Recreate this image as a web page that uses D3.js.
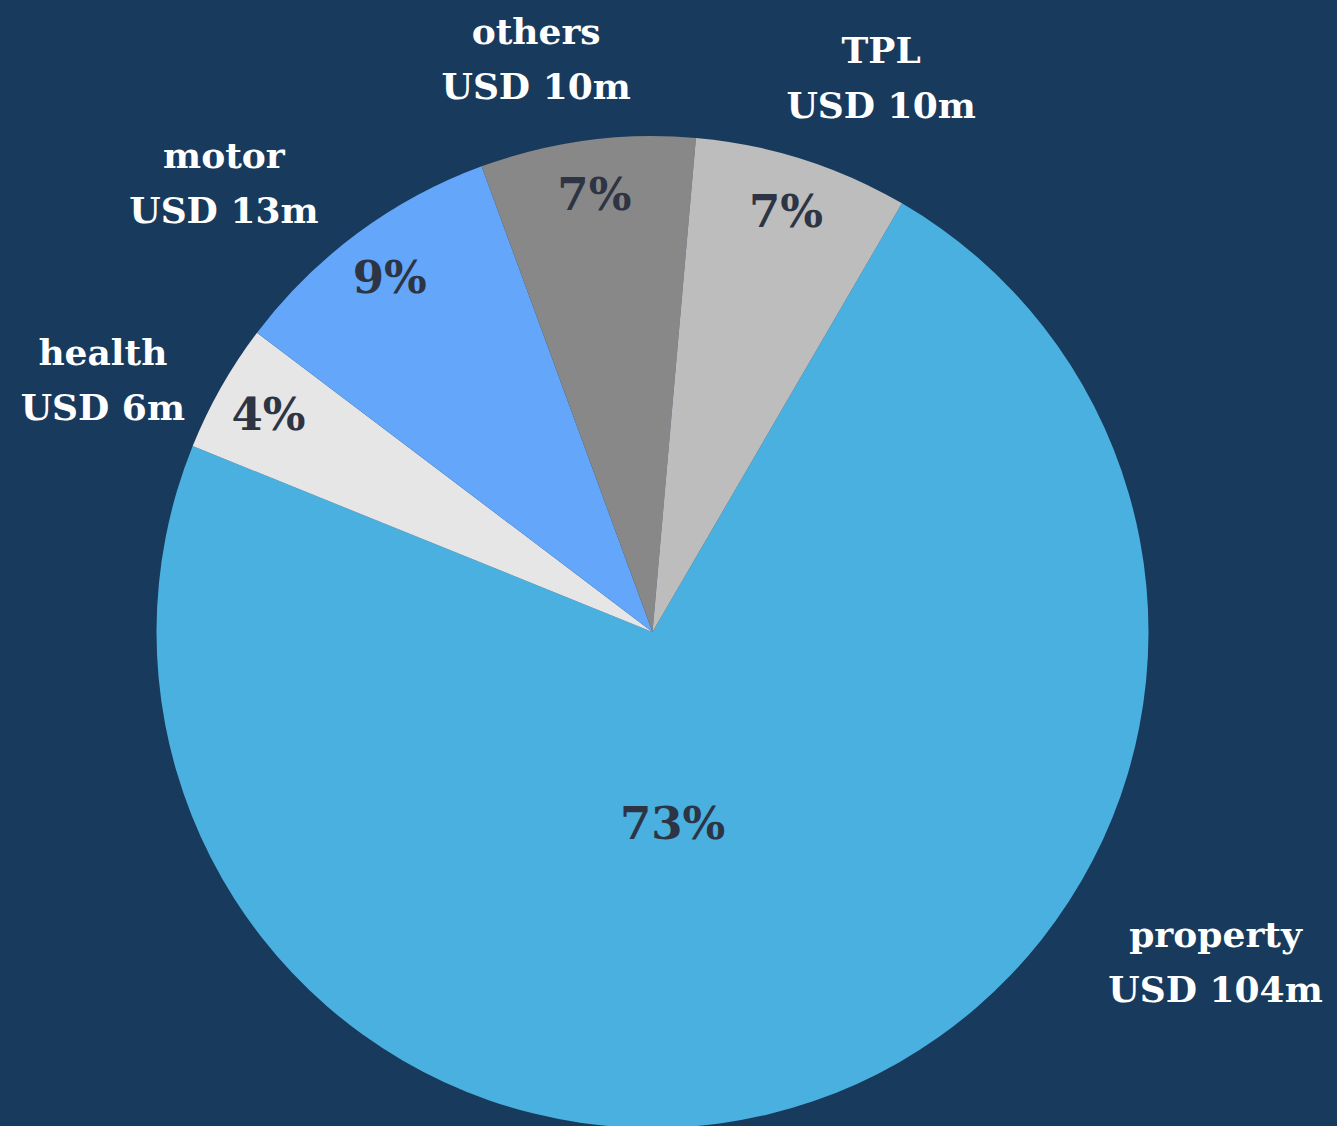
<html lang="en">
<head>
    <meta charset="UTF-8">
    <title>Premium by line</title>
    <script src="https://d3js.org/d3.v7.min.js"></script>
    <style>
        body { margin: 0; background: #183a5c; }
        text { font-family: "DejaVu Serif", "Liberation Serif", serif; font-weight: bold; }
    </style>
</head>
<body>
    <script>
        // Chart data
        const categories = ["property", "health", "motor", "others", "TPL"];
        const values = [104, 6, 13, 10, 10];
        const colors = ["#4ab0e0", "#e6e6e6", "#64a6f9", "#888888", "#bdbdbd"];

        // SVG dimensions
        const w = 1337;
        const h = 1126;
        const cx = 652.5;
        const cy = 632;
        const radius = 496;
        const deg = Math.PI / 180;

        // Outer label spots (polar: degrees clockwise from top, distance from centre)
        const outerSpots = {
            property: [119.2, 645],
            health: [-64.1, 611],
            motor: [-42.7, 632],
            others: [-11.2, 599],
            TPL: [21.9, 613]
        };

        const svg = d3.select("body")
                      .append("svg")
                      .attr("width", w)
                      .attr("height", h);

        svg.append("rect")
           .attr("width", w)
           .attr("height", h)
           .attr("fill", "#183a5c");

        const table = categories.map((c, i) => ({ name: c, value: values[i], color: colors[i] }));
        const total = d3.sum(values);

        const pie = d3.pie()
            .sort(null)
            .value(d => d.value)
            .startAngle(30.2 * deg)
            .endAngle(30.2 * deg + 2 * Math.PI);

        const arc = d3.arc().innerRadius(0).outerRadius(radius);

        const g = svg.append("g").attr("transform", `translate(${cx}, ${cy})`);

        const slices = pie(table);

        g.selectAll("path")
         .data(slices)
         .enter()
         .append("path")
         .attr("d", arc)
         .attr("fill", d => d.data.color);

        // Percentage labels inside the slices
        const polar = (a, r) => [r * Math.sin(a * deg), -r * Math.cos(a * deg)];

        g.selectAll(".pct")
         .data(slices)
         .enter()
         .append("text")
         .attr("class", "pct")
         .attr("text-anchor", "middle")
         .attr("dominant-baseline", "central")
         .attr("fill", "#2d3444")
         .attr("font-size", 45)
         .attr("transform", d => {
             let a = (d.startAngle + d.endAngle) / 2 / deg;
             let r = radius * 0.89;
             if (d.data.name === "property") { a = 174; r = 193; }
             const p = polar(a, r);
             return `translate(${p[0]}, ${p[1]})`;
         })
         .text(d => `${Math.round(d.value / total * 100)}%`);

        // Name + amount labels outside
        const outer = g.selectAll(".outer")
            .data(slices)
            .enter()
            .append("text")
            .attr("class", "outer")
            .attr("text-anchor", "middle")
            .attr("fill", "#ffffff")
            .attr("font-size", 36)
            .attr("transform", d => {
                const s = outerSpots[d.data.name];
                const p = polar(s[0], s[1]);
                return `translate(${p[0]}, ${p[1]})`;
            });

        outer.append("tspan")
             .attr("x", 0)
             .attr("y", 0)
             .text(d => d.data.name);

        outer.append("tspan")
             .attr("x", 0)
             .attr("y", 55)
             .text(d => `USD ${d.data.value}m`);
    </script>
</body>
</html>
